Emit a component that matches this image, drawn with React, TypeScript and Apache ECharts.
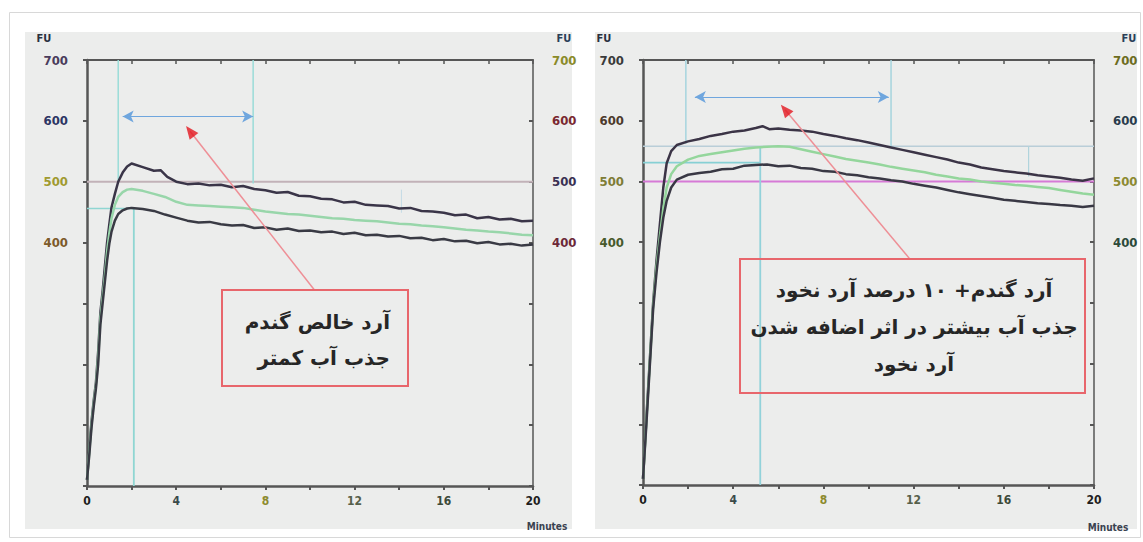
import React, { useEffect, useRef } from "react";
import * as echarts from "echarts";

// ---------- data ----------
const fuTickLabels = [400, 500, 600, 700];
const minuteTickLabels = [0, 4, 8, 12, 16, 20];

// Left panel: pure wheat flour
const leftUpper: [number, number][] = [
  [0, 10], [0.1, 60], [0.2, 105], [0.3, 140], [0.4, 170], [0.5, 220], [0.6, 285], [0.7, 320], [0.8, 360], [0.9, 400],
  [1.0, 430], [1.1, 458], [1.25, 480], [1.4, 500], [1.6, 515], [1.8, 525], [2.0, 530], [2.5, 524], [3.0, 518], [3.3, 519],
  [3.6, 508], [4.0, 500], [4.5, 496], [5.0, 497], [5.5, 494], [6.0, 495], [6.5, 491], [7.0, 493], [7.5, 488], [8.0, 486],
  [8.5, 482], [9.0, 483], [9.5, 477], [10.0, 476], [10.5, 472], [11.0, 471], [11.5, 466], [12.0, 467], [12.5, 462], [13.0, 461],
  [13.5, 460], [14.0, 456], [14.5, 457], [15.0, 452], [15.5, 451], [16.0, 449], [16.5, 445], [17.0, 446], [17.5, 440], [18.0, 442],
  [18.5, 438], [19.0, 439], [19.5, 435], [20.0, 436],
];
const leftMiddle: [number, number][] = [
  [0, 10], [0.1, 55], [0.2, 100], [0.3, 135], [0.4, 165], [0.5, 210], [0.6, 275], [0.7, 310], [0.8, 345], [0.9, 385],
  [1.0, 415], [1.1, 440], [1.25, 462], [1.4, 475], [1.6, 483], [1.8, 487], [2.0, 488], [2.5, 485], [3.0, 480], [3.5, 475],
  [4.0, 467], [4.5, 462], [5.0, 461], [5.5, 460], [6.0, 459], [6.5, 458], [7.0, 457], [7.5, 454], [8.0, 451], [8.5, 449],
  [9.0, 447], [9.5, 446], [10.0, 444], [10.5, 442], [11.0, 440], [11.5, 439], [12.0, 437], [12.5, 436], [13.0, 435], [13.5, 433],
  [14.0, 431], [14.5, 430], [15.0, 428], [15.5, 427], [16.0, 425], [16.5, 423], [17.0, 421], [17.5, 420], [18.0, 418], [18.5, 417],
  [19.0, 415], [19.5, 413], [20.0, 412],
];
const leftLower: [number, number][] = [
  [0, 10], [0.1, 50], [0.2, 95], [0.3, 130], [0.4, 160], [0.5, 200], [0.6, 265], [0.7, 300], [0.8, 335], [0.9, 370],
  [1.0, 398], [1.1, 418], [1.25, 436], [1.4, 447], [1.6, 453], [1.8, 456], [2.0, 457], [2.5, 455], [3.0, 452], [3.5, 446],
  [4.0, 441], [4.5, 436], [5.0, 433], [5.5, 434], [6.0, 430], [6.5, 428], [7.0, 429], [7.5, 424], [8.0, 425], [8.5, 421],
  [9.0, 423], [9.5, 419], [10.0, 420], [10.5, 417], [11.0, 418], [11.5, 414], [12.0, 416], [12.5, 412], [13.0, 413], [13.5, 410],
  [14.0, 411], [14.5, 407], [15.0, 408], [15.5, 404], [16.0, 406], [16.5, 402], [17.0, 403], [17.5, 399], [18.0, 401], [18.5, 397],
  [19.0, 398], [19.5, 395], [20.0, 397],
];

// Right panel: wheat flour + 10% chickpea flour
const rightUpper: [number, number][] = [
  [0, 10], [0.15, 110], [0.3, 205], [0.45, 300], [0.6, 370], [0.75, 430], [0.9, 490], [1.05, 530], [1.25, 550], [1.5, 560],
  [2.0, 566], [2.5, 570], [3.0, 575], [3.5, 578], [4.0, 582], [4.5, 584], [5.0, 588], [5.3, 591], [5.6, 586], [6.0, 587],
  [6.5, 585], [7.0, 584], [7.5, 582], [8.0, 578], [8.5, 575], [9.0, 571], [9.5, 568], [10.0, 564], [10.5, 560], [11.0, 556],
  [11.5, 552], [12.0, 548], [12.5, 544], [13.0, 540], [13.5, 536], [14.0, 531], [14.5, 528], [15.0, 523], [15.5, 520], [16.0, 517],
  [16.5, 515], [17.0, 513], [17.5, 510], [18.0, 508], [18.5, 506], [19.0, 503], [19.5, 501], [20.0, 505],
];
const rightMiddle: [number, number][] = [
  [0, 10], [0.15, 105], [0.3, 200], [0.45, 295], [0.6, 360], [0.75, 410], [0.9, 455], [1.05, 490], [1.25, 512], [1.5, 525],
  [2.0, 536], [2.5, 542], [3.0, 545], [3.5, 548], [4.0, 551], [4.5, 554], [5.0, 556], [5.5, 557], [6.0, 558], [6.5, 557],
  [7.0, 553], [7.5, 549], [8.0, 545], [8.5, 541], [9.0, 537], [9.5, 534], [10.0, 531], [10.5, 528], [11.0, 524], [11.5, 521],
  [12.0, 518], [12.5, 515], [13.0, 511], [13.5, 508], [14.0, 505], [14.5, 503], [15.0, 500], [15.5, 498], [16.0, 496], [16.5, 494],
  [17.0, 493], [17.5, 491], [18.0, 489], [18.5, 486], [19.0, 483], [19.5, 480], [20.0, 478],
];
const rightLower: [number, number][] = [
  [0, 10], [0.15, 100], [0.3, 195], [0.45, 290], [0.6, 350], [0.75, 400], [0.9, 440], [1.05, 468], [1.25, 490], [1.5, 503],
  [2.0, 511], [2.5, 514], [3.0, 516], [3.5, 520], [4.0, 521], [4.5, 526], [5.0, 527], [5.5, 528], [6.0, 525], [6.5, 526],
  [7.0, 522], [7.5, 521], [8.0, 517], [8.5, 516], [9.0, 512], [9.5, 510], [10.0, 507], [10.5, 505], [11.0, 502], [11.5, 500],
  [12.0, 496], [12.5, 493], [13.0, 490], [13.5, 486], [14.0, 482], [14.5, 479], [15.0, 476], [15.5, 473], [16.0, 470], [16.5, 468],
  [17.0, 466], [17.5, 464], [18.0, 463], [18.5, 461], [19.0, 460], [19.5, 458], [20.0, 460],
];

// reference / evaluation lines (minutes, FU)
const leftLine500: [number, number][] = [[0, 500], [20, 500]];
const leftCyanH: [number, number][] = [[0, 456], [2.1, 456]];
const leftVStart: [number, number][] = [[1.4, 700], [1.4, 500]];
const leftVPeak: [number, number][] = [[2.1, 457], [2.1, 0]];
const leftVEnd: [number, number][] = [[7.45, 700], [7.45, 497]];
const leftVFaint: [number, number][] = [[14.1, 487], [14.1, 449]];
const leftStability: [number, number][] = [[1.6, 607], [7.45, 607]];
const leftPointer: [number, number][] = [[10.2, 322], [4.62, 583]];

const rightLine500: [number, number][] = [[0, 500], [20, 500]];
const rightLine558: [number, number][] = [[0, 558], [20, 558]];
const rightCyanH: [number, number][] = [[0, 531], [5.2, 531]];
const rightVStart: [number, number][] = [[1.9, 700], [1.9, 562]];
const rightVEnd: [number, number][] = [[11.0, 700], [11.0, 556]];
const rightVPeak: [number, number][] = [[5.2, 558], [5.2, 0]];
const rightVShort: [number, number][] = [[17.1, 558], [17.1, 508]];
const rightStability: [number, number][] = [[2.3, 639], [10.9, 639]];
const rightPointer: [number, number][] = [[11.84, 372], [6.3, 618]];

const leftNoteLines = ["آرد خالص گندم", "جذب آب کمتر"];
const rightNoteLines = ["آرد گندم+ ۱۰ درصد آرد نخود", "جذب آب بیشتر در اثر اضافه شدن", "آرد نخود"];

// ---------- styling helpers ----------
const LABEL_FONT = "'DejaVu Sans Condensed', 'DejaVu Sans', sans-serif";
const AXIS_COLOR = "#565656";

function yRich(colors: Record<number, string>) {
  const rich: any = {};
  fuTickLabels.forEach((v) => {
    rich["c" + v] = { color: colors[v], fontWeight: "bold", fontSize: 13, fontFamily: LABEL_FONT };
  });
  return rich;
}
const yFormatter = (v: number) => (fuTickLabels.includes(v) ? `{c${v}|${v}}` : "");

const xColors: Record<number, string> = { 0: "#1e1e1e", 4: "#3a4a4a", 8: "#8c8a2c", 12: "#56604a", 16: "#3c4a3a", 20: "#1e1e1e" };
function xRich() {
  const rich: any = {};
  minuteTickLabels.forEach((v) => {
    rich["x" + v] = { color: xColors[v], fontWeight: "bold", fontSize: 12, fontFamily: LABEL_FONT };
  });
  return rich;
}
const xFormatter = (v: number) => (minuteTickLabels.includes(v) ? `{x${v}|${v}}` : "");

function bottomAxis(gridIndex: number) {
  return {
    gridIndex, type: "value", min: 0, max: 20, interval: 2, position: "bottom",
    axisLine: { show: true, onZero: false, lineStyle: { color: AXIS_COLOR, width: 2.5 } },
    axisTick: { show: true, length: 4, lineStyle: { color: AXIS_COLOR, width: 2 } },
    splitLine: { show: false },
    axisLabel: { margin: 9, formatter: xFormatter, rich: xRich() },
  };
}
function topAxis(gridIndex: number) {
  return {
    gridIndex, type: "value", min: 0, max: 20, interval: 2, position: "top",
    axisLine: { show: true, onZero: false, lineStyle: { color: AXIS_COLOR, width: 2 } },
    axisTick: { show: true, inside: true, length: 4, lineStyle: { color: AXIS_COLOR, width: 1.5 } },
    splitLine: { show: false },
    axisLabel: { show: false },
  };
}
function yAxis(gridIndex: number, position: string, colors: Record<number, string>) {
  return {
    gridIndex, type: "value", min: 0, max: 700, interval: 100, position,
    axisLine: { show: true, onZero: false, lineStyle: { color: AXIS_COLOR, width: position === "left" ? 2.5 : 1.5 } },
    axisTick: { show: true, inside: position === "right", length: 4, lineStyle: { color: AXIS_COLOR, width: 2 } },
    splitLine: { show: false },
    axisLabel: { margin: 19, formatter: yFormatter, rich: yRich(colors) },
  };
}

function seg(name: string, data: [number, number][], xi: number, yi: number, color: string, width: number, z = 2) {
  return {
    name, type: "line", xAxisIndex: xi, yAxisIndex: yi, data, showSymbol: false, symbol: "none",
    lineStyle: { color, width }, z, silent: true,
  };
}
function curve(name: string, data: [number, number][], xi: number, yi: number, color: string, width: number) {
  return {
    name, type: "line", xAxisIndex: xi, yAxisIndex: yi, data, showSymbol: false, symbol: "none",
    lineStyle: { color, width, join: "round" }, z: 5, silent: true,
  };
}
function stabilityArrow(name: string, data: [number, number][], xi: number, yi: number) {
  return {
    name, type: "line", xAxisIndex: xi, yAxisIndex: yi, data: [], silent: true,
    markLine: {
      silent: true, symbol: ["arrow", "arrow"], symbolSize: [9, 11], label: { show: false },
      lineStyle: { color: "#6fa6de", width: 1.2, type: "solid" },
      data: [[{ coord: data[0] }, { coord: data[1] }]],
    },
    z: 6,
  };
}
function pointer(name: string, data: [number, number][], xi: number, yi: number, rotate: number) {
  return [
    seg(name + "-line", data, xi, yi, "#ee8f96", 1.5, 8),
    {
      name: name + "-head", type: "scatter", xAxisIndex: xi, yAxisIndex: yi, data: [data[1]],
      symbol: "triangle", symbolSize: [11, 13], symbolRotate: rotate, silent: true,
      itemStyle: { color: "#e3171f" }, z: 9,
    },
  ];
}

export default function App() {
  const ref = useRef<HTMLDivElement>(null);
  useEffect(() => {
    if (!ref.current) return;
    const chart = echarts.init(ref.current, undefined, { renderer: "svg" });
    const noteFont = "bold 20px 'DejaVu Sans', sans-serif";
    const fuFont = "bold 11px 'DejaVu Sans Condensed', 'DejaVu Sans', sans-serif";
    const minFont = "bold 10px 'DejaVu Sans Condensed', 'DejaVu Sans', sans-serif";
    const option: any = {
      animation: false,
      backgroundColor: "#ffffff",
      grid: [
        { left: 87, top: 60, width: 446, height: 426, containLabel: false },
        { left: 643, top: 60, width: 451, height: 425, containLabel: false },
      ],
      xAxis: [bottomAxis(0), topAxis(0), bottomAxis(1), topAxis(1)],
      yAxis: [
        yAxis(0, "left", { 700: "#4a3c5c", 600: "#2c3564", 500: "#a09a30", 400: "#7c5a2a" }),
        yAxis(0, "right", { 700: "#8a8a28", 600: "#7a2830", 500: "#3a3052", 400: "#6c2838" }),
        yAxis(1, "left", { 700: "#3a3a3a", 600: "#4c3a2c", 500: "#7e7c36", 400: "#485a2c" }),
        yAxis(1, "right", { 700: "#6c6c20", 600: "#2a3c4c", 500: "#8c8a30", 400: "#2c4a3a" }),
      ],
      series: [
        // left panel reference lines
        seg("l500", leftLine500, 0, 0, "#c2b2b8", 2),
        seg("lcyanH", leftCyanH, 0, 0, "#8fd6d2", 1.5),
        seg("lvs", leftVStart, 0, 0, "#9adcd8", 1.5),
        seg("lvp", leftVPeak, 0, 0, "#8fd6d2", 1.8),
        seg("lve", leftVEnd, 0, 0, "#9adcd8", 1.5),
        seg("lvf", leftVFaint, 0, 0, "#c4dbe6", 1),
        curve("lUpper", leftUpper, 0, 0, "#3a3548", 2.5),
        curve("lMiddle", leftMiddle, 0, 0, "#98d6aa", 2.5),
        curve("lLower", leftLower, 0, 0, "#393a44", 2.5),
        stabilityArrow("lStab", leftStability, 0, 0),
        ...pointer("lPtr", leftPointer, 0, 0, 38),
        // right panel reference lines
        seg("r558", rightLine558, 2, 2, "#b9ced8", 1.5),
        seg("r500", rightLine500, 2, 2, "#d67ad6", 2),
        seg("rcyanH", rightCyanH, 2, 2, "#86d0d4", 1.8),
        seg("rvs", rightVStart, 2, 2, "#a6d4de", 1.5),
        seg("rve", rightVEnd, 2, 2, "#a6d4de", 1.5),
        seg("rvp", rightVPeak, 2, 2, "#92d2da", 1.8),
        seg("rvsh", rightVShort, 2, 2, "#b0d4dc", 1.2),
        curve("rUpper", rightUpper, 2, 2, "#3b3446", 2.5),
        curve("rMiddle", rightMiddle, 2, 2, "#94d69c", 2.5),
        curve("rLower", rightLower, 2, 2, "#393844", 2.5),
        stabilityArrow("rStab", rightStability, 2, 2),
        ...pointer("rPtr", rightPointer, 2, 2, 40),
      ],
      graphic: [
        { type: "rect", z: -30, silent: true, shape: { x: 9.5, y: 12.5, width: 1131, height: 525 }, style: { fill: "#ffffff", stroke: "#d8d8d8", lineWidth: 1 } },
        { type: "rect", z: -20, silent: true, shape: { x: 25, y: 32, width: 547, height: 497 }, style: { fill: "#ecedec" } },
        { type: "rect", z: -20, silent: true, shape: { x: 595, y: 32, width: 542, height: 497 }, style: { fill: "#ecedec" } },
        // FU labels
        { type: "text", z: 50, x: 44, y: 38, style: { text: "FU", font: fuFont, fill: "#2a3040", textAlign: "center", textVerticalAlign: "middle" } },
        { type: "text", z: 50, x: 564, y: 38, style: { text: "FU", font: fuFont, fill: "#2a3e58", textAlign: "center", textVerticalAlign: "middle" } },
        { type: "text", z: 50, x: 604, y: 38, style: { text: "FU", font: fuFont, fill: "#2a3040", textAlign: "center", textVerticalAlign: "middle" } },
        { type: "text", z: 50, x: 1129, y: 38, style: { text: "FU", font: fuFont, fill: "#2a3e58", textAlign: "center", textVerticalAlign: "middle" } },
        // Minutes labels
        { type: "text", z: 50, x: 547, y: 526, style: { text: "Minutes", font: minFont, fill: "#3a4250", textAlign: "center", textVerticalAlign: "middle" } },
        { type: "text", z: 50, x: 1108, y: 527, style: { text: "Minutes", font: minFont, fill: "#3a4250", textAlign: "center", textVerticalAlign: "middle" } },
        // annotation boxes
        { type: "rect", z: 40, silent: true, shape: { x: 222, y: 290, width: 186, height: 96 }, style: { fill: "rgba(0,0,0,0)", stroke: "#e8666c", lineWidth: 2 } },
        { type: "rect", z: 40, silent: true, shape: { x: 740, y: 259, width: 345, height: 134 }, style: { fill: "rgba(0,0,0,0)", stroke: "#e8666c", lineWidth: 2 } },
        ...leftNoteLines.map((t, i) => ({
          type: "text", z: 50, x: 390, y: 322 + i * 36,
          style: { text: t, font: noteFont, fill: "#262626", textAlign: "right", textVerticalAlign: "middle" },
        })),
        ...rightNoteLines.map((t, i) => ({
          type: "text", z: 50, x: 914, y: 290 + i * 37,
          style: { text: t, font: noteFont, fill: "#262626", textAlign: "center", textVerticalAlign: "middle" },
        })),
      ],
    };
    chart.setOption(option);
    return () => chart.dispose();
  }, []);
  return <div ref={ref} style={{ position: "fixed", left: 0, top: 0, width: 1143, height: 542 }} />;
}
